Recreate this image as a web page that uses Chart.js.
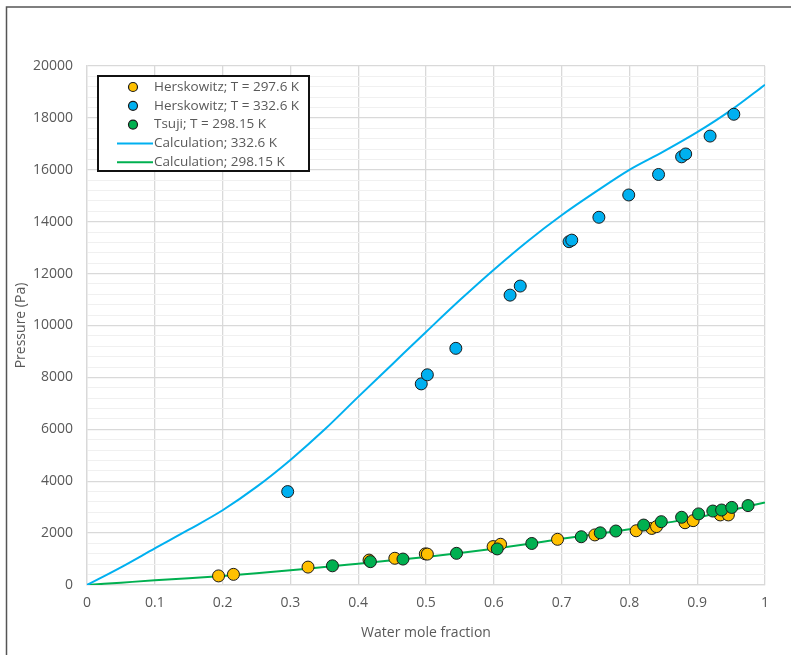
<!DOCTYPE html>
<html>
<head>
<meta charset="utf-8">
<script src="https://cdn.jsdelivr.net/npm/chart.js@4.4.1/dist/chart.umd.min.js"></script>
<style>
  body { margin: 0; background: #fff; }
  #wrap { width: 791px; height: 655px; }
</style>
</head>
<body>
<div id="wrap"><canvas id="chart" width="791" height="655"></canvas></div>
<script>
// tick labels
const xTicks = [0, 0.1, 0.2, 0.3, 0.4, 0.5, 0.6, 0.7, 0.8, 0.9, 1];
const yTicks = [0, 2000, 4000, 6000, 8000, 10000, 12000, 14000, 16000, 18000, 20000];

// Herskowitz; T = 297.6 K
const hersk297X = [0.194, 0.216, 0.326, 0.416, 0.454, 0.499, 0.502, 0.599, 0.610, 0.694, 0.749, 0.810, 0.833, 0.840, 0.882, 0.894, 0.934, 0.946];
const hersk297Y = [350, 410, 690, 960, 1030, 1200, 1190, 1480, 1570, 1760, 1930, 2090, 2180, 2250, 2400, 2480, 2700, 2700];

// Herskowitz; T = 332.6 K
const hersk332X = [0.296, 0.493, 0.502, 0.544, 0.624, 0.639, 0.711, 0.715, 0.755, 0.799, 0.843, 0.877, 0.883, 0.919, 0.954];
const hersk332Y = [3600, 7750, 8100, 9120, 11170, 11520, 13230, 13290, 14170, 15030, 15820, 16500, 16610, 17300, 18140];

// Tsuji; T = 298.15 K
const tsujiX = [0.362, 0.418, 0.466, 0.545, 0.605, 0.656, 0.729, 0.757, 0.780, 0.821, 0.847, 0.877, 0.902, 0.923, 0.936, 0.951, 0.975];
const tsujiY = [740, 900, 1000, 1220, 1390, 1600, 1860, 2010, 2080, 2310, 2440, 2610, 2740, 2850, 2890, 2990, 3060];

// Calculation curves
const calcX = [0, 0.05, 0.1, 0.15, 0.2, 0.25, 0.3, 0.35, 0.4, 0.45, 0.5, 0.55, 0.6, 0.65, 0.7, 0.75, 0.8, 0.85, 0.9, 0.95, 1];
const calc332Y = [0, 680, 1410, 2130, 2880, 3780, 4820, 5980, 7250, 8500, 9750, 10980, 12150, 13250, 14250, 15150, 16000, 16700, 17450, 18300, 19280];
const calc298Y = [0, 90, 180, 260, 350, 450, 570, 690, 820, 950, 1080, 1230, 1400, 1580, 1780, 1960, 2150, 2380, 2600, 2880, 3180];

const pts = (xs, ys) => xs.map((x, i) => ({ x: x, y: ys[i] }));

const FONT = '"Open Sans", sans-serif';
const TEXT = '#595959';

const frame = {
  id: 'frame',
  beforeDraw(chart) {
    const ctx = chart.ctx;
    ctx.save();
    ctx.fillStyle = '#fff';
    ctx.fillRect(0, 0, chart.width, chart.height);
    ctx.strokeStyle = '#555';
    ctx.lineWidth = 1.5;
    ctx.beginPath();
    ctx.moveTo(6.5, chart.height);
    ctx.lineTo(6.5, 7);
    ctx.lineTo(chart.width, 7);
    ctx.stroke();
    ctx.restore();
  }
};

const insideLegend = {
  id: 'insideLegend',
  afterDraw(chart) {
    const ctx = chart.ctx;
    const area = chart.chartArea;
    const x0 = area.left + 11, y0 = area.top + 10, w = 211, h = 95;
    ctx.save();
    ctx.fillStyle = '#fff';
    ctx.fillRect(x0, y0, w, h);
    ctx.strokeStyle = '#111';
    ctx.lineWidth = 2;
    ctx.strokeRect(x0, y0, w, h);
    ctx.font = '13.5px ' + FONT;
    ctx.textBaseline = 'middle';
    chart.data.datasets.forEach((ds, i) => {
      const y = y0 + 11 + i * 18.8;
      if (ds.showLine) {
        ctx.strokeStyle = ds.borderColor;
        ctx.lineWidth = 2;
        ctx.beginPath();
        ctx.moveTo(x0 + 19, y);
        ctx.lineTo(x0 + 55, y);
        ctx.stroke();
      } else {
        ctx.fillStyle = ds.backgroundColor;
        ctx.strokeStyle = ds.borderColor;
        ctx.lineWidth = 1.2;
        ctx.beginPath();
        ctx.arc(x0 + 35, y, 4.5, 0, Math.PI * 2);
        ctx.fill();
        ctx.stroke();
      }
      ctx.fillStyle = TEXT;
      ctx.fillText(ds.label, x0 + 56, y);
    });
    ctx.restore();
  }
};

const marker = (color, order) => ({
  backgroundColor: color,
  borderColor: '#1a1a1a',
  borderWidth: 1,
  pointRadius: 6,
  pointHoverRadius: 6,
  showLine: false,
  order: order
});

const ctx = document.getElementById('chart').getContext('2d');
new Chart(ctx, {
  type: 'scatter',
  data: {
    datasets: [
      Object.assign({ label: 'Herskowitz; T = 297.6 K', data: pts(hersk297X, hersk297Y) }, marker('#FFC000', 2)),
      Object.assign({ label: 'Herskowitz; T = 332.6 K', data: pts(hersk332X, hersk332Y) }, marker('#00B0F0', 1)),
      Object.assign({ label: 'Tsuji; T = 298.15 K', data: pts(tsujiX, tsujiY) }, marker('#00B050', 0)),
      {
        label: 'Calculation; 332.6 K',
        data: pts(calcX, calc332Y),
        showLine: true,
        borderColor: '#00B0F0',
        backgroundColor: '#00B0F0',
        borderWidth: 2,
        pointRadius: 0,
        cubicInterpolationMode: 'monotone',
        order: 3
      },
      {
        label: 'Calculation; 298.15 K',
        data: pts(calcX, calc298Y),
        showLine: true,
        borderColor: '#00B050',
        backgroundColor: '#00B050',
        borderWidth: 2,
        pointRadius: 0,
        cubicInterpolationMode: 'monotone',
        order: 4
      }
    ]
  },
  options: {
    responsive: false,
    animation: false,
    layout: { padding: { top: 66, right: 26, bottom: 0, left: 0 } },
    plugins: {
      legend: { display: false },
      tooltip: { enabled: false }
    },
    scales: {
      x: {
        type: 'linear',
        min: 0,
        max: 1,
        afterBuildTicks: (s) => { s.ticks = xTicks.map(v => ({ value: v })); },
        afterFit: (s) => { s.height = 70; },
        ticks: { color: TEXT, font: { family: FONT, size: 14 }, padding: 10, callback: (v) => String(v) },
        grid: { color: '#d9d9d9', lineWidth: 1.3, drawTicks: false },
        border: { color: '#d9d9d9', width: 1.3 },
        title: { display: true, text: 'Water mole fraction', color: TEXT, font: { family: FONT, size: 14 }, padding: { top: 0, bottom: 14 } }
      },
      y: {
        min: 0,
        max: 20000,
        afterBuildTicks: (s) => {
          const t = [];
          for (let v = 0; v <= 20000; v += 400) t.push({ value: v });
          s.ticks = t;
        },
        afterFit: (s) => { s.width = 87; },
        ticks: {
          color: TEXT,
          font: { family: FONT, size: 14 },
          padding: 14,
          autoSkip: false,
          callback: (v) => yTicks.includes(v) ? String(v) : ''
        },
        grid: {
          color: (c) => yTicks.includes(c.tick.value) ? '#d9d9d9' : '#f0f0f0',
          lineWidth: (c) => yTicks.includes(c.tick.value) ? 1.3 : 1,
          drawTicks: false
        },
        border: { color: '#d9d9d9', width: 1.3 },
        title: { display: true, text: 'Pressure (Pa)', color: TEXT, font: { family: FONT, size: 14 }, padding: { top: 13, bottom: 0 } }
      }
    }
  },
  plugins: [frame, insideLegend]
});
</script>
</body>
</html>
